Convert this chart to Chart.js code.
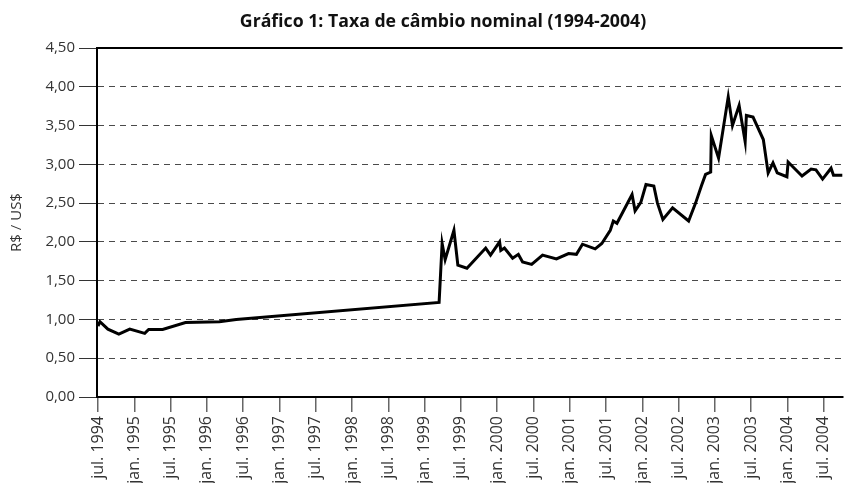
<!DOCTYPE html>
<html>
<head>
<meta charset="utf-8">
<script src="https://cdn.jsdelivr.net/npm/chart.js@4/dist/chart.umd.min.js"></script>
<style>
  body { margin: 0; background: #fff; }
  #wrap { position: relative; width: 847px; height: 483px; }
  #title {
    position: absolute; top: 8px; left: 0; width: 886px;
    text-align: center; font: bold 17.7px "Open Sans", sans-serif; color: #111;
  }
</style>
</head>
<body>
<div id="wrap">
  <div id="title">Gráfico 1: Taxa de câmbio nominal (1994-2004)</div>
  <canvas id="chart" width="847" height="483"></canvas>
</div>
<script>
// months counted from jul. 1994
const months = [0, 0.33, 1.64, 3.45, 5.26, 7.73, 8.38, 10.69, 14.47, 20.06, 22.85, 56.4, 56.9, 57.4, 58.85, 59.5, 61.0,
  64.1, 64.9, 66.4, 66.6, 67.2, 68.55, 69.5, 70.2, 71.7, 73.5, 75.8, 77.8, 79.1, 80.1, 82.2, 83.3, 84.7, 85.2, 85.8,
  88.3, 88.8, 89.75, 90.6, 91.9, 92.5, 93.4, 95.0, 97.65, 98.8, 99.8, 100.45, 101.3, 101.4, 102.6, 104.2, 104.9,
  106.0, 107.0, 107.2, 108.3, 110.0, 110.8, 111.6, 112.3, 113.9, 114.1, 116.4, 117.9, 118.7, 119.8, 121.2, 121.6, 123.1];
const rates = [0.915, 0.97, 0.875, 0.81, 0.875, 0.82, 0.87, 0.87, 0.96, 0.97, 1.00, 1.22, 1.98, 1.77, 2.15, 1.70, 1.66,
  1.92, 1.83, 2.00, 1.89, 1.92, 1.79, 1.84, 1.74, 1.71, 1.83, 1.78, 1.85, 1.84, 1.97, 1.91, 1.98, 2.15, 2.27, 2.24,
  2.61, 2.40, 2.51, 2.74, 2.72, 2.50, 2.29, 2.44, 2.27, 2.50, 2.73, 2.87, 2.90, 3.37, 3.08, 3.87, 3.50,
  3.76, 3.29, 3.63, 3.61, 3.32, 2.89, 3.02, 2.89, 2.84, 3.03, 2.85, 2.94, 2.93, 2.81, 2.95, 2.86, 2.86];

const xTickMonths = [0, 6, 12, 18, 24, 30, 36, 42, 48, 54, 60, 66, 72, 78, 84, 90, 96, 102, 108, 114, 120];
const xTickLabels = ['jul. 1994', 'jan. 1995', 'jul. 1995', 'jan. 1996', 'jul. 1996', 'jan. 1997', 'jul. 1997',
  'jan. 1998', 'jul. 1998', 'jan. 1999', 'jul. 1999', 'jan. 2000', 'jul. 2000', 'jan. 2001', 'jul. 2001',
  'jan. 2002', 'jul. 2002', 'jan. 2003', 'jul. 2003', 'jan. 2004', 'jul. 2004'];

const frameTop = {
  id: 'frameTop',
  afterDraw(chart) {
    const ctx = chart.ctx, a = chart.chartArea;
    ctx.save();
    ctx.strokeStyle = '#000';
    ctx.lineWidth = 2;
    ctx.setLineDash([]);
    ctx.beginPath();
    ctx.moveTo(a.left, a.top);
    ctx.lineTo(a.right, a.top);
    ctx.stroke();
    ctx.restore();
  }
};

new Chart(document.getElementById('chart'), {
  type: 'line',
  data: {
    datasets: [{
      data: months.map((m, i) => ({ x: m, y: rates[i] })),
      borderColor: '#000',
      borderWidth: 3,
      pointRadius: 0,
      tension: 0,
      fill: false
    }]
  },
  options: {
    responsive: false,
    animation: false,
    layout: { padding: { top: 48, right: 0, left: 0, bottom: 0 } },
    plugins: { legend: { display: false }, tooltip: { enabled: false } },
    scales: {
      x: {
        type: 'linear',
        min: -0.16,
        max: 123.1,
        afterBuildTicks: s => { s.ticks = xTickMonths.map(v => ({ value: v })); },
        afterFit: s => { s.height = 86; },
        border: { color: '#000', width: 2 },
        grid: { drawOnChartArea: false, drawTicks: true, tickLength: 15, tickColor: '#666', lineWidth: 1.5 },
        ticks: {
          autoSkip: false, maxRotation: 90, minRotation: 90, padding: 4, color: '#333',
          font: { family: '"Open Sans", sans-serif', size: 16 },
          callback: (v, i) => xTickLabels[i]
        }
      },
      y: {
        min: 0,
        max: 4.5,
        afterFit: s => { s.width = 97; },
        border: { color: '#000', width: 2, dash: [6, 5] },
        grid: { color: '#4a4a4a', lineWidth: 1, tickLength: 18, tickColor: '#333', tickBorderDash: [] },
        ticks: {
          stepSize: 0.5, padding: 4, color: '#333',
          font: { family: '"Open Sans", sans-serif', size: 15 },
          callback: v => v.toFixed(2).replace('.', ',')
        },
        title: { display: true, text: 'R$ / US$', color: '#333', font: { family: '"Open Sans", sans-serif', size: 15 }, padding: { top: 8, bottom: 0 } }
      }
    }
  },
  plugins: [frameTop]
});
</script>
</body>
</html>
